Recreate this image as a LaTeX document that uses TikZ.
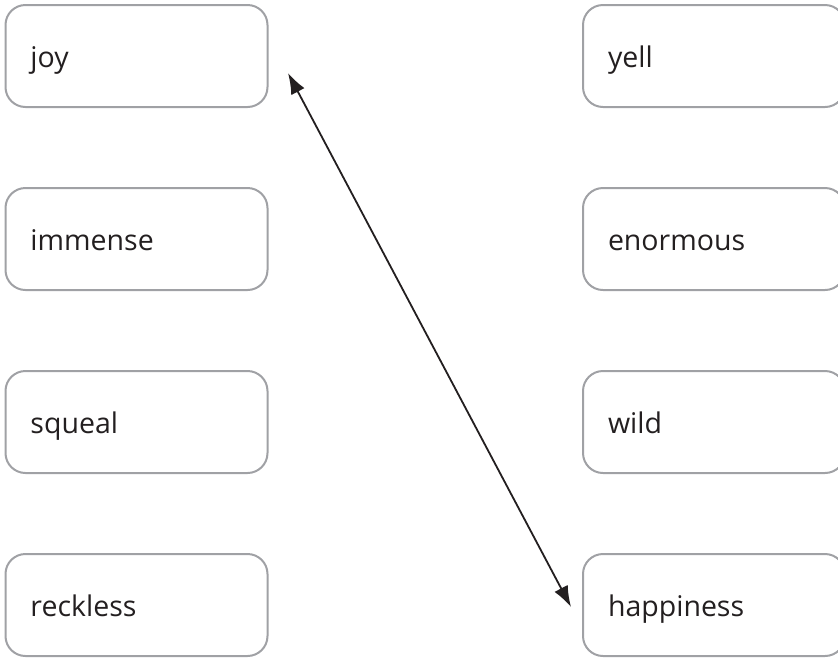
\documentclass[tikz,border=0pt]{standalone}
\usepackage{fontspec}
\setmainfont{Open Sans}
\usetikzlibrary{arrows.meta}
\definecolor{boxgray}{RGB}{160,161,165}
\definecolor{txt}{RGB}{35,31,32}
\tikzset{
  wordbox/.style={draw=boxgray, line width=2pt, rounded corners=20pt, minimum width=262pt, minimum height=102pt, text width=212pt, text height=22pt, text depth=0pt, align=left, inner sep=0pt, text=txt, font=\fontsize{28.5}{32}\selectfont},
  link/.style={line width=1.8pt, draw=txt, {Latex[length=21pt,width=15pt]}-{Latex[length=21pt,width=15pt]}}
}
\begin{document}
\begin{tikzpicture}[x=1pt,y=-1pt]
\useasboundingbox (0,0) rectangle (838,657);
\node[wordbox] (joy) at (136.5,56) {joy};
\node[wordbox] (immense) at (136.5,239) {immense};
\node[wordbox] (squeal) at (136.5,422) {squeal};
\node[wordbox] (reckless) at (136.5,605) {reckless};
\node[wordbox] (yell) at (714,56) {yell};
\node[wordbox] (enormous) at (714,239) {enormous};
\node[wordbox] (wild) at (714,422) {wild};
\node[wordbox] (happiness) at (714,605) {happiness};
\coordinate (a1) at (288,73);
\coordinate (a2) at (571,607);
\draw[link] (a1) -- (a2);
\end{tikzpicture}
\end{document}
